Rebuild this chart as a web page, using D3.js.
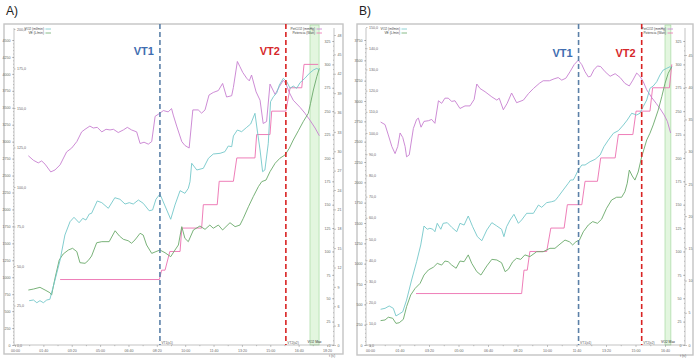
<!DOCTYPE html>
<html>
<head>
<meta charset="utf-8">
<script src="https://cdn.jsdelivr.net/npm/d3@7"></script>
<style>
  body { margin: 0; background: #fff; }
</style>
</head>
<body>
<div id="app"></div>
<script>
// ---- data (time in s) ----
const timeLabels = ['00:00', '01:40', '03:20', '05:00', '06:40', '08:20', '10:00', '11:40', '13:20', '15:00', '16:40', '18:20']

// panel A
const vo2A = [[50,654],[65,664],[77,624],[88,654],[100,624],[112,664],[123,674],[141,959],[159,1254],[176,1623],[194,1819],[208,1884],[226,1804],[239,1869],[250,1844],[262,1933],[270,1943],[290,2125],[306,2100],[329,2017],[352,2173],[370,2150],[388,2080],[403,2100],[417,2080],[435,2139],[452,2091],[473,1981],[485,1992],[497,2150],[511,2228],[529,2051],[549,1855],[564,2066],[582,2277],[599,2238],[611,2312],[617,2409],[623,2681],[641,2582],[664,2607],[682,2755],[699,2818],[723,2828],[740,2852],[752,2936],[764,2926],[770,3084],[784,3172],[799,3147],[817,3212],[831,3261],[846,3418],[854,3172],[864,2877],[873,2557],[881,2582],[893,2976],[901,3590],[911,3663],[923,3722],[932,3836],[946,3935],[958,3885],[970,3787],[981,3821],[993,3787],[1005,3870],[1022,3935],[1038,4009],[1052,4057],[1064,4082],[1073,4057]]
const veA = [[47,34.8],[65,35.4],[88,36.5],[106,34.8],[123,33.1],[129,31.6],[141,42.2],[156,53.8],[170,57.6],[188,60.1],[203,61.2],[218,59.1],[229,52.1],[247,51.7],[258,53.4],[270,56.3],[288,64.7],[306,65.4],[332,65.4],[353,72.3],[368,69.0],[382,66.9],[399,66.0],[411,64.4],[423,66.5],[441,70.7],[452,69.6],[464,63.3],[482,58.0],[497,59.1],[511,60.1],[529,58.4],[549,55.9],[564,60.1],[576,63.3],[588,74.9],[599,67.5],[611,65.4],[629,72.8],[652,75.3],[670,73.2],[687,75.9],[699,73.9],[717,75.9],[732,72.8],[758,77.4],[776,74.9],[793,75.9],[805,80.2],[823,87.5],[840,93.9],[858,100.2],[870,103.4],[885,104.4],[899,109.7],[917,115.0],[934,118.2],[952,120.3],[967,124.5],[981,129.7],[999,135.6],[1016,141.3],[1034,146.6],[1042,153.0],[1052,161.4],[1064,169.8],[1073,175.1]]
const petco2A = [[47,29.3],[65,28.6],[82,28.2],[94,28.5],[106,28.0],[126,26.8],[141,27.1],[159,27.9],[182,29.9],[200,30.5],[218,31.5],[235,33.0],[247,33.4],[264,33.9],[276,33.6],[290,33.7],[306,33.0],[321,33.4],[335,33.3],[347,33.4],[364,32.9],[382,33.3],[396,33.7],[411,33.3],[429,33.0],[441,31.2],[455,31.4],[470,31.1],[482,31.5],[494,35.4],[511,35.9],[523,36.3],[540,36.1],[552,36.6],[558,35.6],[570,33.9],[588,31.5],[599,30.9],[614,30.5],[627,36.4],[646,36.4],[658,35.9],[670,36.4],[684,38.7],[699,39.1],[717,39.4],[732,40.5],[746,38.4],[764,38.6],[770,39.9],[784,43.9],[793,43.1],[803,42.2],[817,41.3],[826,40.9],[834,41.8],[850,39.2],[864,37.9],[875,34.3],[887,34.6],[899,40.4],[917,38.8],[932,40.0],[946,41.0],[955,40.5],[967,39.1],[981,37.9],[1005,36.8],[1022,35.9],[1040,34.8],[1058,33.6],[1073,32.4]]
const powerA = [[159,70],[509,70],[517,80],[529,80],[546,100],[582,100],[588,125],[658,125],[664,150],[713,150],[720,175],[770,175],[782,200],[846,200],[852,225],[899,225],[905,250],[955,250],[970,275],[1011,275],[1019,300],[1069,300]]
const markersA = { vt1: 511, vt2: 955, vo2max: [1040, 1072] }

// panel B
const vo2B = [[36,439],[51,451],[65,480],[79,451],[88,357],[99,381],[111,409],[124,553],[141,799],[158,1024],[172,1230],[183,1463],[194,1423],[203,1435],[213,1423],[220,1393],[228,1496],[240,1423],[248,1496],[262,1504],[277,1447],[294,1393],[305,1496],[319,1475],[333,1586],[348,1454],[364,1332],[379,1282],[396,1414],[413,1504],[430,1463],[446,1423],[454,1332],[463,1454],[475,1537],[488,1607],[503,1496],[514,1537],[531,1619],[554,1619],[571,1721],[582,1693],[599,1750],[616,1762],[627,1774],[638,1823],[655,1906],[672,1988],[680,2029],[689,2029],[695,2069],[706,2152],[718,2213],[729,2213],[746,2254],[763,2283],[780,2336],[793,2438],[808,2520],[825,2603],[842,2635],[859,2705],[872,2766],[887,2849],[904,2828],[915,2849],[926,2930],[938,3012],[949,3156],[960,3184],[972,3237],[983,3320],[994,3381],[1006,3402],[1017,3422],[1023,3402]]
const veB = [[36,11.5],[51,11.8],[62,13.1],[77,12.6],[88,10.2],[99,10.5],[113,12.1],[124,18.1],[138,23.6],[153,26.7],[170,29.1],[183,33.0],[198,35.4],[215,36.7],[228,38.5],[243,37.7],[254,39.6],[265,39.3],[277,37.7],[292,36.2],[305,39.6],[319,39.3],[333,42.5],[345,38.5],[362,34.6],[376,33.0],[396,37.3],[413,40.4],[430,40.1],[446,38.8],[458,34.6],[469,35.7],[484,39.3],[497,40.9],[511,40.4],[525,42.5],[542,41.7],[565,44.0],[587,44.0],[610,45.6],[627,45.6],[644,47.6],[661,49.5],[676,48.7],[687,47.2],[698,48.7],[710,49.5],[723,53.4],[740,56.6],[755,58.2],[771,57.4],[785,59.3],[802,64.5],[819,68.4],[836,69.7],[853,69.7],[864,72.3],[872,76.3],[879,82.5],[889,79.7],[898,77.8],[909,81.6],[921,88.8],[938,96.7],[949,99.9],[960,103.8],[977,110.8],[989,117.1],[1000,123.4],[1011,128.2],[1023,131.3]]
const petco2B = [[36,34.6],[51,34.2],[62,32.6],[74,30.8],[85,29.7],[94,30.8],[102,32.9],[111,32.2],[119,30.8],[124,29.2],[133,29.5],[147,33.6],[158,35.0],[164,35.2],[173,33.8],[183,34.7],[198,34.8],[209,35.0],[220,34.4],[232,37.9],[243,37.5],[254,38.3],[265,38.3],[277,37.8],[288,37.9],[305,36.7],[322,37.1],[339,37.1],[353,38.1],[362,40.5],[373,39.8],[390,39.3],[413,38.5],[430,38.0],[438,38.3],[452,36.5],[465,37.5],[480,39.1],[497,37.6],[520,38.0],[537,39.0],[554,39.8],[574,40.6],[587,41.0],[608,41.0],[624,41.3],[638,41.5],[650,41.1],[664,41.4],[678,42.4],[692,43.5],[706,44.2],[718,43.5],[729,42.4],[740,41.6],[748,41.7],[759,42.7],[771,43.3],[782,43.2],[797,42.4],[814,41.7],[831,42.1],[848,41.5],[864,40.6],[879,40.2],[891,41.1],[904,42.2],[915,41.7],[926,40.9],[938,39.6],[955,38.4],[970,37.5],[983,36.7],[997,35.7],[1008,34.7],[1019,32.9]]
const powerB = [[156,55],[514,55],[522,80],[533,80],[542,100],[599,100],[613,125],[658,125],[669,150],[718,150],[729,175],[771,175],[782,200],[831,200],[842,225],[891,225],[902,250],[949,250],[958,275],[1015,275],[1023,300]]
const markersB = { vt1: 707, vt2: 921, vo2max: [1000, 1020] }

const colors = { vo2: '#74c7c9', ve: '#6aa96a', petco2: '#c77fd0', power: '#ec6fb0' }

const svg = d3.select('#app').append('svg').attr('width', 700).attr('height', 361)

const fmtComma = (d) => d3.format('.1f')(d).replace('.', ',')

function styleAxis(g) {
  g.attr('font-size', 3.6).attr('font-family', 'Liberation Sans, Arial, sans-serif')
  g.select('.domain').attr('stroke', '#9a9a9a').attr('stroke-width', 0.6)
  g.selectAll('.tick line').attr('stroke', '#8a8a8a').attr('stroke-width', 0.5)
  g.selectAll('.tick text').attr('fill', '#666')
}

function drawPanel(p) {
  const g = svg.append('g')

  g.append('text')
    .attr('x', p.frame[0] + 2).attr('y', 15)
    .attr('font-family', 'Liberation Sans, Arial, sans-serif')
    .attr('font-size', 12).attr('fill', '#222')
    .text(p.title)

  g.append('rect')
    .attr('x', p.frame[0]).attr('y', p.frame[1])
    .attr('width', p.frame[2]).attr('height', p.frame[3])
    .attr('fill', '#fff').attr('stroke', '#c4c4c4').attr('stroke-width', 1.4)

  const x = d3.scaleLinear().domain([0, p.tMax]).range(p.xRange)
  const yVo2 = d3.scaleLinear().domain([0, p.vo2Max]).range([p.bottom, p.vo2Top])
  const yVe = d3.scaleLinear().domain([0, p.veMax]).range([p.bottom, p.veTop])
  const yPow = d3.scaleLinear().domain([0, 325]).range([p.bottom, 41])
  const yCo2 = d3.scaleLinear().domain([0, p.co2Max]).range([p.bottom, p.co2Top])

  // VO2 max band
  const band = p.markers.vo2max
  g.append('rect')
    .attr('x', x(band[0])).attr('y', p.frame[1] + 1)
    .attr('width', x(band[1]) - x(band[0])).attr('height', p.bottom - p.frame[1] - 1)
    .attr('fill', '#e3f6df').attr('stroke', '#9bd596').attr('stroke-width', 0.6)
  g.append('text')
    .attr('x', (x(band[0]) + x(band[1])) / 2).attr('y', p.bottom - 2)
    .attr('text-anchor', 'middle').attr('font-size', 3.4)
    .attr('font-family', 'Liberation Sans, Arial, sans-serif').attr('fill', '#333')
    .text('VO2 Max')

  // axes
  const left = p.xLeft, right = p.xRight
  const tickSet = (max, step) => d3.range(0, max + step / 2, step)

  const aVo2 = g.append('g').attr('transform', `translate(${left},0)`)
    .call(d3.axisLeft(yVo2).tickValues(tickSet(p.vo2Max, 250)).tickSize(2).tickPadding(1.5).tickFormat(d3.format('d')))
  styleAxis(aVo2)
  aVo2.select('.domain').attr('d', `M0,${p.bottom}V${p.frame[1] + 4}`)
  g.append('g').attr('transform', `translate(${left},0)`)
    .call(d3.axisLeft(yVo2).tickValues(tickSet(p.vo2Max, 50)).tickSize(1).tickFormat(''))
    .call(styleAxis).select('.domain').remove()

  const aVe = g.append('g').attr('transform', `translate(${left},0)`)
    .call(d3.axisRight(yVe).tickValues(tickSet(p.veMax, p.veStep)).tickSize(1.5).tickPadding(1.5).tickFormat(fmtComma))
  styleAxis(aVe)
  aVe.select('.domain').remove()

  const aPow = g.append('g').attr('transform', `translate(${right},0)`)
    .call(d3.axisLeft(yPow).tickValues(tickSet(325, 25)).tickSize(2).tickPadding(1.5).tickFormat(d3.format('d')))
  styleAxis(aPow)
  aPow.select('.domain').attr('d', `M0,${p.bottom}V${p.frame[1] + 4}`)
  g.append('g').attr('transform', `translate(${right},0)`)
    .call(d3.axisLeft(yPow).tickValues(tickSet(325, 5)).tickSize(1).tickFormat(''))
    .call(styleAxis).select('.domain').remove()

  const aCo2 = g.append('g').attr('transform', `translate(${right},0)`)
    .call(d3.axisRight(yCo2).tickValues(tickSet(p.co2Max, p.co2Step)).tickSize(2).tickPadding(1.5).tickFormat(d3.format('d')))
  styleAxis(aCo2)
  aCo2.select('.domain').remove()

  const timeTicks = timeLabels.slice(0, p.nLabels).map((d, i) => i * 100)
  const aT = g.append('g').attr('transform', `translate(0,${p.bottom})`)
    .call(d3.axisBottom(x).tickValues(timeTicks).tickSize(2).tickPadding(2.5).tickFormat((d, i) => timeLabels[i]))
  styleAxis(aT)
  aT.select('.domain').attr('d', `M${left},0H${right}`)
  g.append('g').attr('transform', `translate(0,${p.bottom})`)
    .call(d3.axisBottom(x).tickValues(d3.range(50, p.tMax, 100)).tickSize(1.2).tickFormat(''))
    .call(styleAxis).select('.domain').remove()
  g.append('text')
    .attr('x', right - 2).attr('y', p.bottom + 12)
    .attr('text-anchor', 'middle').attr('font-size', 3.6)
    .attr('font-family', 'Liberation Sans, Arial, sans-serif').attr('fill', '#666')
    .text('t (s)')

  // series
  const series = [
    { data: p.power, y: yPow, color: colors.power },
    { data: p.petco2, y: yCo2, color: colors.petco2 },
    { data: p.ve, y: yVe, color: colors.ve },
    { data: p.vo2, y: yVo2, color: colors.vo2 }
  ]
  series.forEach((s) => {
    g.append('path')
      .datum(s.data)
      .attr('fill', 'none')
      .attr('stroke', s.color)
      .attr('stroke-width', 0.9)
      .attr('stroke-linejoin', 'round')
      .attr('d', d3.line().x((d) => x(d[0])).y((d) => s.y(d[1])))
  })

  // thresholds
  const vts = [
    { t: p.markers.vt1, name: 'VT1', line: '#5b80a8', text: '#3f6db0', tag: 'VT1(x1)' },
    { t: p.markers.vt2, name: 'VT2', line: '#d92323', text: '#d6282b', tag: 'VT2(x2)' }
  ]
  vts.forEach((v) => {
    g.append('line')
      .attr('x1', x(v.t)).attr('x2', x(v.t))
      .attr('y1', p.frame[1]).attr('y2', p.bottom)
      .attr('stroke', v.line).attr('stroke-width', 1.6)
      .attr('stroke-dasharray', '5,3')
    g.append('text')
      .attr('x', x(v.t) - 6).attr('y', p.vtY)
      .attr('text-anchor', 'end')
      .attr('font-family', 'Liberation Sans, Arial, sans-serif')
      .attr('font-weight', 'bold').attr('font-size', 11)
      .attr('fill', v.text)
      .text(v.name)
    g.append('text')
      .attr('x', x(v.t) + 1.5).attr('y', p.bottom - 1.5)
      .attr('font-size', 3.2).attr('fill', '#555')
      .attr('font-family', 'Liberation Sans, Arial, sans-serif')
      .text(v.tag)
  })

  // legends
  const legend = (items, x0, anchor) => {
    items.forEach((it, i) => {
      const yy = p.frame[1] + 5 + i * 4
      g.append('text')
        .attr('x', x0).attr('y', yy + 1.2)
        .attr('text-anchor', anchor)
        .attr('font-size', 3.3).attr('fill', '#444')
        .attr('font-family', 'Liberation Sans, Arial, sans-serif')
        .text(it[0])
      g.append('line')
        .attr('x1', anchor === 'end' ? x0 + 1.5 : x0 + 20)
        .attr('x2', anchor === 'end' ? x0 + 7 : x0 + 26)
        .attr('y1', yy).attr('y2', yy)
        .attr('stroke', it[1]).attr('stroke-width', 0.8)
    })
  }
  legend([['VO2 (ml/min)', colors.vo2], ['VE (L/min)', colors.ve]], p.legendL, 'end')
  legend([['PetCO2 (mmHg)', colors.petco2], ['Potencia (Watt)', colors.power]], p.legendR, 'end')
}

drawPanel({
  title: 'A)', frame: [4, 24, 339, 330], bottom: 345,
  tMax: 1100, xRange: [15, 327], xLeft: 14, xRight: 334, nLabels: 12,
  vo2Max: 4500, vo2Top: 40, veMax: 200, veTop: 29, veStep: 25,
  co2Max: 48, co2Top: 35, co2Step: 3, vtY: 55,
  vo2: vo2A, ve: veA, petco2: petco2A, power: powerA, markers: markersA,
  legendL: 44, legendR: 315
})

drawPanel({
  title: 'B)', frame: [357, 24, 336, 331], bottom: 345,
  tMax: 1000, xRange: [370, 665], xLeft: 366, xRight: 685, nLabels: 11,
  vo2Max: 3750, vo2Top: 40, veMax: 150, veTop: 27, veStep: 10,
  co2Max: 45, co2Top: 55, co2Step: 5, vtY: 57,
  vo2: vo2B, ve: veB, petco2: petco2B, power: powerB, markers: markersB,
  legendL: 400, legendR: 666
})
</script>
</body>
</html>
